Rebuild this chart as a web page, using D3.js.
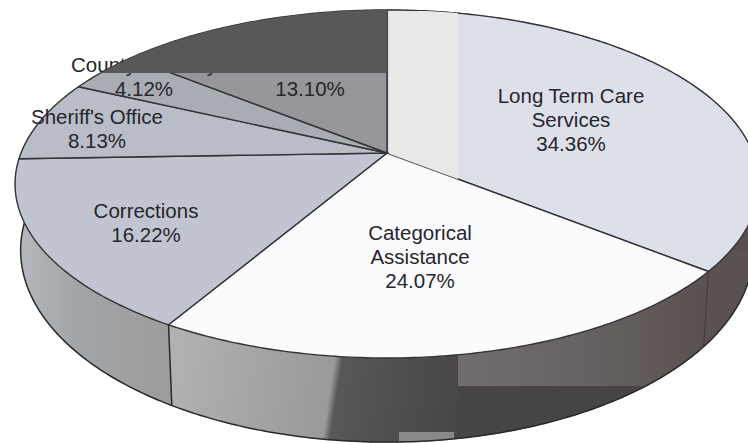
<!DOCTYPE html>
<html><head><meta charset="utf-8">
<script src="https://cdn.jsdelivr.net/npm/d3@7"></script>
<style>html,body{margin:0;padding:0;background:#fff}svg{display:block}</style></head>
<body><svg id="c" width="748" height="443"></svg>
<script>
const categories = [["Long Term Care","Services"],["Categorical","Assistance"],["Corrections"],["Sheriff's Office"],["County Attorney"],[""]];
const values = [34.36,24.07,16.22,8.13,4.12,13.10];
const valueLabels = ["34.36%","24.07%","16.22%","8.13%","4.12%","13.10%"];

const topFills = ["#dddfe9","#fbfbfe","#c1c5d1","#b9bdc7","#a9adb3","#96969b"];
const sideFills = ["#574f4d","url(#gCat)","url(#gCor)","#a9adb3","#a9adb3","#96969b"];
const labelAnchors = [[571,103],[420,240],[146,218],[97,124],[144,72],[310,96]];

const W=748,H=443,cx=387,cy=153,a=366,b=168.5,k=0.178;
// the photographed pie is slightly uneven: a small angular correction in degrees
const warp=d3.scaleLinear().domain([0,124,210,269,298,313,360]).range([0,5,0,-0.7,-3,-4,0]);
function P(t,sx=1,sy=1,dy=0){
  const d=t*180/Math.PI, th=t+warp(((d%360)+360)%360)*Math.PI/180;
  const u=Math.sin(th),v=-Math.cos(th),w=1-k*v;
  return [cx+sx*a*u/w, cy+dy+sy*b*v/w];
}
const BASE=[0.985,1.103,63];
const svg=d3.select("#c");
const defs=svg.append("defs");
function grad(id,x1,y1,x2,y2,stops){
  const g=defs.append("linearGradient").attr("id",id).attr("gradientUnits","userSpaceOnUse")
    .attr("x1",x1).attr("x2",x2).attr("y1",y1).attr("y2",y2);
  stops.forEach(s=>g.append("stop").attr("offset",s[0]).attr("stop-color",s[1]));
}
grad("gCat",170,350,460,395,[[0,"#b2b2b2"],[0.5,"#9c9c9c"],[0.56,"#9a9a9a"],[0.585,"#585858"],[1,"#484647"]]);
grad("gCor",15,0,172,0,[[0,"#b5b9bd"],[0.4,"#a2a5a8"],[1,"#9c9c9c"]]);
grad("gPatch",458,0,700,0,[[0,"#716d6e"],[0.5,"#686363"],[1,"#5a5250"]]);

const pie=d3.pie().sort(null).value(d=>d)(values);
const line=d3.line();
const arcPts=(t0,t1,...s)=>{const n=Math.max(2,Math.ceil((t1-t0)*80));return d3.range(n+1).map(i=>P(t0+(t1-t0)*i/n,...s));};

const sides=svg.append("g");
pie.forEach((p,i)=>{
  const pts=arcPts(p.startAngle,p.endAngle).concat(arcPts(p.startAngle,p.endAngle,...BASE).reverse());
  sides.append("path").attr("d",line(pts)+"Z").attr("fill",sideFills[i]).attr("stroke",sideFills[i]).attr("stroke-width",0.5);
});
// scan patches on the side wall
const t0=pie[0].startAngle+Math.PI*0.25,t1=pie[1].endAngle;
defs.append("clipPath").attr("id","sideClip").append("path").attr("d",line(arcPts(t0,t1).concat(arcPts(t0,t1,...BASE).reverse()))+"Z");
const sp=svg.append("g").attr("clip-path","url(#sideClip)");
sp.append("rect").attr("x",458).attr("y",250).attr("width",290).attr("height",136).attr("fill","url(#gPatch)");
sp.append("rect").attr("x",458).attr("y",386).attr("width",290).attr("height",57).attr("fill","#474445");
sp.append("rect").attr("x",399).attr("y",432).attr("width",55).attr("height",11).attr("fill","#8a888a");
// side outlines
const edge=svg.append("g").attr("fill","none").attr("stroke","#2b2a2b").attr("stroke-width",1.5);
edge.append("path").attr("d",line(arcPts(Math.PI*0.45,Math.PI*1.5,...BASE)));
edge.append("path").attr("stroke","#3d3a39").attr("stroke-width",1).attr("d",line([P(pie[0].endAngle),P(pie[0].endAngle,...BASE)]));
edge.append("path").attr("d",line([P(pie[1].endAngle),P(pie[1].endAngle,...BASE)]));

const tops=svg.append("g");
pie.forEach((p,i)=>{
  const pts=[[cx,cy]].concat(arcPts(p.startAngle,p.endAngle));
  tops.append("path").attr("d",line(pts)+"Z").attr("fill",topFills[i]).attr("stroke","#333236").attr("stroke-width",1.4).attr("stroke-linejoin","round");
});
// pale scan patch over the top surface
defs.append("clipPath").attr("id","disc").append("path").attr("d",line(arcPts(0,2*Math.PI))+"Z");
const first=[[cx,cy]].concat(arcPts(pie[0].startAngle,pie[0].endAngle));
defs.append("clipPath").attr("id","firstSlice").append("path").attr("d",line(first)+"Z");
svg.append("rect").attr("clip-path","url(#firstSlice)").attr("x",389).attr("y",11).attr("width",69).attr("height",175).attr("fill","#e8e8e6");

const txt=svg.append("g").attr("font-family","'Liberation Sans',Arial,sans-serif").attr("font-size",20.5).attr("fill","#26262c").attr("text-anchor","middle");
categories.forEach((c,i)=>{
  const lines=c.filter(s=>s).concat([valueLabels[i]]);
  const [x,y]=labelAnchors[i];
  lines.forEach((s,j)=>txt.append("text").attr("x",x).attr("y",y+j*24).text(s));
});
// dark mask from the scan
svg.append("rect").attr("clip-path","url(#disc)").attr("x",100).attr("y",0).attr("width",287).attr("height",73).attr("fill","#585858");
</script></body></html>
